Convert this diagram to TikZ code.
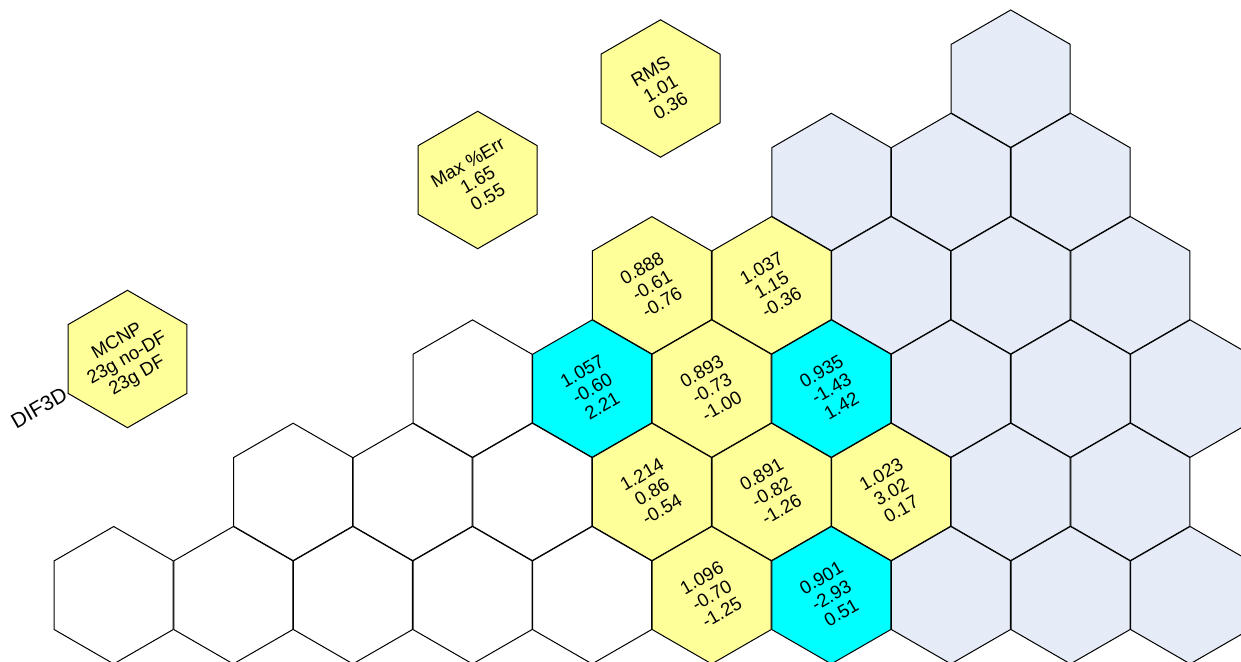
\documentclass[tikz,border=0pt]{standalone}
\usepackage{fontspec}
\setmainfont{Liberation Sans}
\usepackage{tikz}
\usetikzlibrary{shapes.geometric}
\definecolor{hexyellow}{RGB}{255,255,153}
\definecolor{hexcyan}{RGB}{0,255,255}
\definecolor{hexblue}{RGB}{229,236,247}

\begin{document}
\begin{tikzpicture}[
    x=0.5pt, y=-0.5pt,
    hexcell/.style={regular polygon, regular polygon sides=6, rotate=30, minimum size=68.7pt, inner sep=-12pt, draw=black, line width=0.5pt, font=\fontsize{9.3}{10}\selectfont, align=center},
    blank/.style={hexcell, fill=white},
    core/.style={hexcell, fill=hexyellow},
    hot/.style={hexcell, fill=hexcyan},
    outer/.style={hexcell, fill=hexblue},
    lbl/.style={font=\fontsize{10.5}{11}\selectfont, rotate=30, inner sep=0pt},
  ]
  \clip (0,0) rectangle (1241,662);
  \node[outer] (r0a) at (1010.7,78.7) {};
  \node[outer] (r1a) at (831.3,182) {};
  \node[outer] (r1b) at (950.9,182) {};
  \node[outer] (r1c) at (1070.5,182) {};
  \node[core] (r2a) at (651.9,285.3) {0.888\\-0.61\\-0.76};
  \node[core] (r2b) at (771.5,285.3) {1.037\\1.15\\-0.36};
  \node[outer] (r2c) at (891.1,285.3) {};
  \node[outer] (r2d) at (1010.7,285.3) {};
  \node[outer] (r2e) at (1130.3,285.3) {};
  \node[blank] (r3a) at (472.5,388.6) {};
  \node[hot] (r3b) at (592.1,388.6) {1.057\\-0.60\\2.21};
  \node[core] (r3c) at (711.7,388.6) {0.893\\-0.73\\-1.00};
  \node[hot] (r3d) at (831.3,388.6) {0.935\\-1.43\\1.42};
  \node[outer] (r3e) at (950.9,388.6) {};
  \node[outer] (r3f) at (1070.5,388.6) {};
  \node[outer] (r3g) at (1190.1,388.6) {};
  \node[blank] (r4a) at (293.1,491.9) {};
  \node[blank] (r4b) at (412.7,491.9) {};
  \node[blank] (r4c) at (532.3,491.9) {};
  \node[core] (r4d) at (651.9,491.9) {1.214\\0.86\\-0.54};
  \node[core] (r4e) at (771.5,491.9) {0.891\\-0.82\\-1.26};
  \node[core] (r4f) at (891.1,491.9) {1.023\\3.02\\0.17};
  \node[outer] (r4g) at (1010.7,491.9) {};
  \node[outer] (r4h) at (1130.3,491.9) {};
  \node[blank] (r5a) at (113.7,595.2) {};
  \node[blank] (r5b) at (233.3,595.2) {};
  \node[blank] (r5c) at (352.9,595.2) {};
  \node[blank] (r5d) at (472.5,595.2) {};
  \node[blank] (r5e) at (592.1,595.2) {};
  \node[core] (r5f) at (711.7,595.2) {1.096\\-0.70\\-1.25};
  \node[hot] (r5g) at (831.3,595.2) {0.901\\-2.93\\0.51};
  \node[outer] (r5h) at (950.9,595.2) {};
  \node[outer] (r5i) at (1070.5,595.2) {};
  \node[outer] (r5j) at (1190.1,595.2) {};
  \node[core] (rms) at (660.5,88.5) {RMS\\1.01\\0.36};
  \node[core] (maxerr) at (477.7,180) {Max \%Err\\1.65\\0.55};
  \node[core] (mcnp) at (127.5,359) {MCNP\\23g no-DF\\23g DF};
  \node[lbl] (dif) at (39,408) {DIF3D};
\end{tikzpicture}
\end{document}
